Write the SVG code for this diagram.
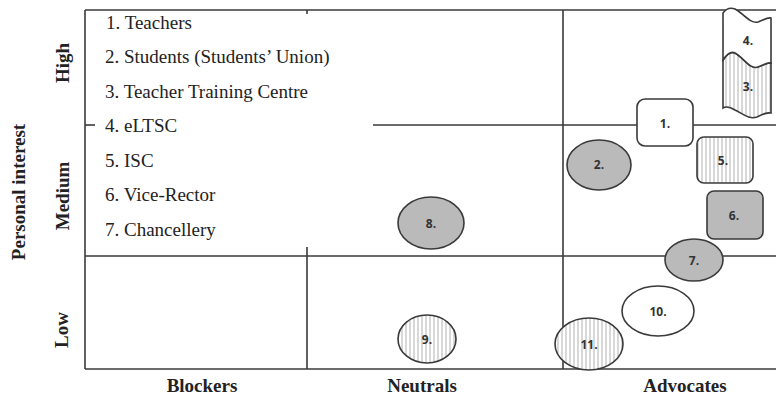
<svg xmlns="http://www.w3.org/2000/svg" width="776" height="397" viewBox="0 0 776 397">
<defs>
<pattern id="hatch" patternUnits="userSpaceOnUse" width="4" height="4">
<rect width="4" height="4" fill="#ffffff"/>
<line x1="2" y1="0" x2="2" y2="4" stroke="#a8a8a8" stroke-width="0.9"/>
</pattern>
</defs>
<style>
.grid{stroke:#3a3a3a;stroke-width:1.6;fill:none}
.leg{font-family:"Liberation Serif","Times New Roman",serif;font-size:19px;fill:#222}
.ax{font-family:"Liberation Serif","Times New Roman",serif;font-size:19px;font-weight:bold;fill:#222}
.node{stroke:#3a3a3a;stroke-width:1.6}
.white{fill:#ffffff}
.gray{fill:#bababa}
.hatch{fill:url(#hatch)}
.lbl{font-family:"Open Sans","Liberation Sans",sans-serif;font-size:12px;font-weight:bold;fill:#333;text-anchor:middle;dominant-baseline:central}
</style>
<rect width="776" height="397" fill="#ffffff"/>
<g id="grid" class="grid">
<line x1="85" y1="10" x2="776" y2="10"/>
<line x1="85" y1="369" x2="776" y2="369"/>
<line x1="85" y1="10" x2="85" y2="369"/>
<line x1="563" y1="10" x2="563" y2="369"/>
<line x1="85" y1="256" x2="776" y2="256"/>
<line x1="85" y1="125" x2="95" y2="125"/>
<line x1="373" y1="125" x2="776" y2="125"/>
<line x1="307" y1="10" x2="307" y2="14"/>
<line x1="307" y1="247" x2="307" y2="369"/>
</g>
<g id="legend" class="leg">
<text x="106" y="29">1. Teachers</text>
<text x="105" y="63">2. Students (Students’ Union)</text>
<text x="105" y="98">3. Teacher Training Centre</text>
<text x="105" y="132">4. eLTSC</text>
<text x="105" y="167">5. ISC</text>
<text x="105" y="201">6. Vice-Rector</text>
<text x="105" y="236">7. Chancellery</text>
</g>
<g id="axis-labels" class="ax">
<text transform="translate(25,192) rotate(-90)" text-anchor="middle">Personal interest</text>
<text transform="translate(69,63) rotate(-90)" text-anchor="middle">High</text>
<text transform="translate(69,196) rotate(-90)" text-anchor="middle">Medium</text>
<text transform="translate(68,330) rotate(-90)" text-anchor="middle">Low</text>
<text x="202" y="392" text-anchor="middle">Blockers</text>
<text x="422" y="392" text-anchor="middle">Neutrals</text>
<text x="685" y="392" text-anchor="middle">Advocates</text>
</g>
<g id="node-3">
<path class="node hatch" d="M723,60 C727,54 731,51 735,53 C743,57 750,70 758,67 C764,65 767,62 771,63 L771,113 C767,112 763,114 757,117 C749,120 742,113 735,110 C730,107 726,106 723,108 Z"/>
<text class="lbl" x="748" y="86">3.</text>
</g>
<g id="node-4">
<path class="node white" d="M723,13 C726,9 730,7 735,9 C743,13 750,24 758,22 C764,20 767,17 771,18 L771,63 C767,62 764,65 758,67 C750,70 743,57 735,53 C731,51 727,54 723,60 Z"/>
<text class="lbl" x="748" y="40">4.</text>
</g>
<g id="node-1">
<rect class="node white" x="637" y="99" width="56" height="47" rx="8"/>
<text class="lbl" x="665" y="123">1.</text>
</g>
<g id="node-2">
<ellipse class="node gray" cx="599" cy="165" rx="32" ry="25"/>
<text class="lbl" x="599" y="164">2.</text>
</g>
<g id="node-5">
<rect class="node hatch" x="697" y="137" width="56" height="46" rx="7"/>
<text class="lbl" x="723" y="160">5.</text>
</g>
<g id="node-6">
<rect class="node gray" x="707" y="191" width="56" height="48" rx="7"/>
<text class="lbl" x="734" y="215">6.</text>
</g>
<g id="node-7">
<ellipse class="node gray" cx="694" cy="260" rx="29" ry="21"/>
<text class="lbl" x="694" y="260">7.</text>
</g>
<g id="node-8">
<ellipse class="node gray" cx="431" cy="223" rx="33" ry="26"/>
<text class="lbl" x="431" y="223">8.</text>
</g>
<g id="node-9">
<ellipse class="node hatch" cx="427" cy="339" rx="29" ry="24"/>
<text class="lbl" x="427" y="339">9.</text>
</g>
<g id="node-10">
<ellipse class="node white" cx="658" cy="311" rx="36" ry="25"/>
<text class="lbl" x="658" y="311">10.</text>
</g>
<g id="node-11">
<ellipse class="node hatch" cx="589" cy="344" rx="34" ry="26"/>
<text class="lbl" x="589" y="344">11.</text>
</g>
</svg>
